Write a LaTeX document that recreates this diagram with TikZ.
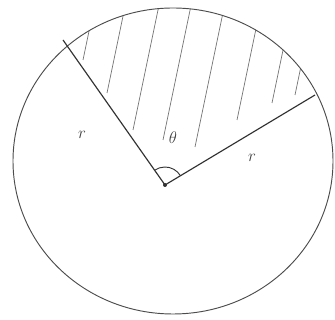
\documentclass[tikz,border=0pt]{standalone}
\usepackage{amsmath}
\usetikzlibrary{positioning}

\begin{document}
\begin{tikzpicture}[x=0.3mm, y=0.3mm, thick]
    % Styles
    \tikzstyle{rim} = [draw=black!70, line width=0.8pt]
    \tikzstyle{radius} = [draw=black!80, line width=1pt]
    \tikzstyle{hatch} = [draw=black!55, line width=0.6pt]
    \tikzstyle{anglemark} = [draw=black!80, line width=0.8pt]
    \tikzstyle{lbl} = [font=\Large, text=black!75]

    \useasboundingbox (0,0) rectangle (335,320);

    % Points
    \coordinate (O) at (165,135);
    \coordinate (A) at (63,280);
    \coordinate (B) at (315,225);
    \coordinate (C) at (173,159);

    % Hatched sector
    \begin{scope}
        \clip (C) ellipse [x radius=160, y radius=153];
        \clip (O) -- (A) -- (40,330) -- (335,330) -- (B) -- cycle;
        \foreach \x/\y in {83/260, 107/227, 133/190, 163/180, 195/173, 237/200, 272/217, 295/225}
            \path [hatch] (\x,\y) -- ++(30,144);
    \end{scope}

    % Circle and radii
    \path [rim] (C) ellipse [x radius=160, y radius=153];
    \path [radius] (O) -- (A);
    \path [radius] (O) -- (B);
    \path [anglemark] (O) ++(31:18) arc [start angle=31, end angle=125, x radius=18, y radius=18];
    \fill [black!80] (O) circle (2);

    % Labels
    \node [lbl] (theta) at (173,182) {$\theta$};
    \node [lbl] (rleft) at (82,185) {$r$};
    \node [lbl] (rright) at (252,162) {$r$};

\end{tikzpicture}
\end{document}
